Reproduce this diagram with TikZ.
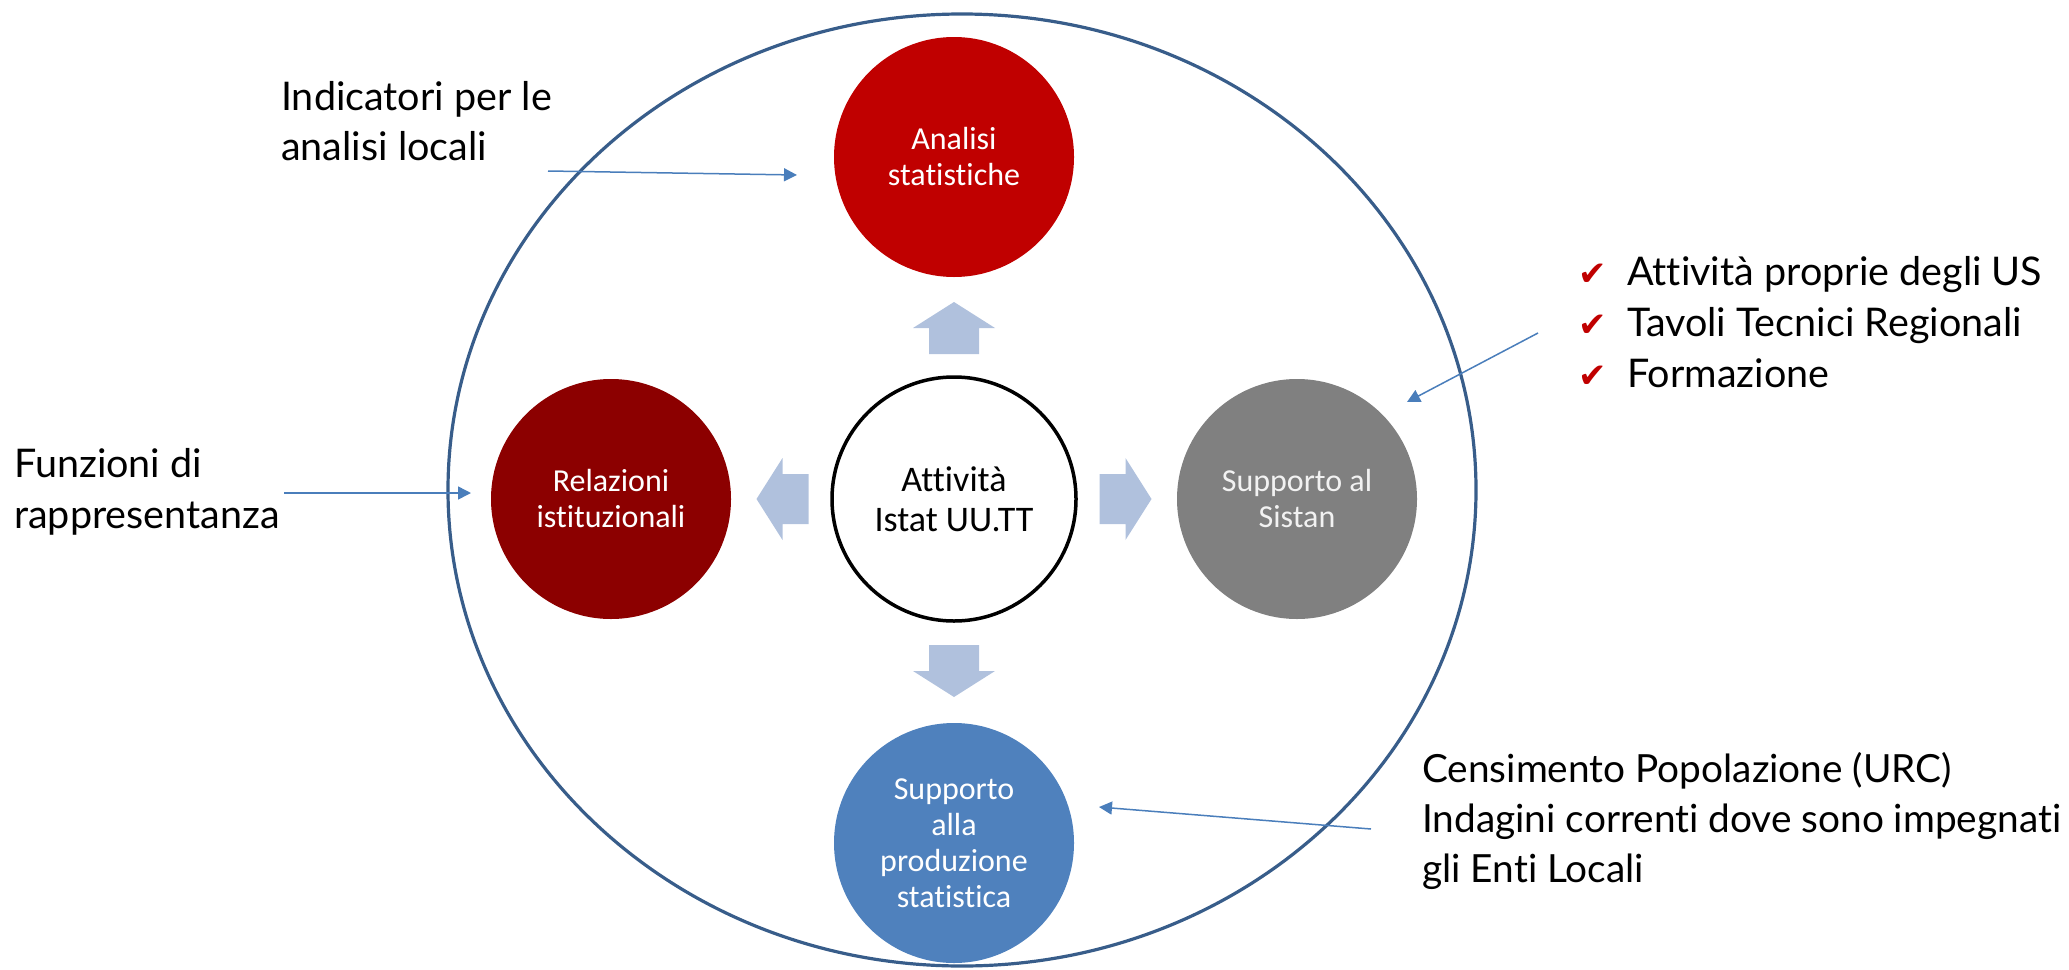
\documentclass[tikz,border=0pt]{standalone}
\usepackage{fontspec}
\setmainfont{Lato}[Ligatures=NoCommon]
\newfontfamily\calfont{Carlito}[Ligatures=NoCommon]
\newfontfamily\symfont{DejaVu Sans}
\usetikzlibrary{arrows.meta,calc}
\definecolor{outerline}{RGB}{56,93,138}
\definecolor{connblue}{RGB}{74,126,187}
\definecolor{blockblue}{RGB}{176,193,221}
\definecolor{redA}{RGB}{192,0,0}
\definecolor{redB}{RGB}{140,0,0}
\definecolor{grayC}{RGB}{128,128,128}
\definecolor{blueD}{RGB}{79,129,189}
\definecolor{chk}{RGB}{192,0,0}
\newcommand\mychk{\makebox[49pt][l]{\symfont\fontsize{34}{34}\selectfont\color{chk}✔}}
\begin{document}
\begin{tikzpicture}[x=1pt,y=-1pt,
  bubble/.style={circle, minimum size=240pt, inner sep=0pt, align=center, text=white, font=\calfont\fontsize{32}{36}\selectfont},
  hub/.style={circle, draw=black, line width=3.5pt, fill=white, minimum size=244pt, inner sep=0pt, align=center, font=\calfont\fontsize{36}{40}\selectfont},
  note/.style={anchor=base west, align=left, inner sep=0pt, font=\fontsize{39.5}{50}\selectfont},
  conn/.style={draw=connblue, line width=1.5pt, -{Triangle[length=13pt,width=13pt]}},
  blockarrow/.pic={\fill[blockblue] (-26,-25) -- (0,-25) -- (0,-41) -- (26,0) -- (0,41) -- (0,25) -- (-26,25) -- cycle;}
]
\useasboundingbox (0,0) rectangle (2069,969);
\draw[outerline, line width=3.2pt] (962,490) ellipse [x radius=514pt, y radius=476pt];

\node[bubble, fill=redA] (analisi) at (954,157) {Analisi\\statistiche};
\node[bubble, fill=redB] (relazioni) at (611,499) {Relazioni\\istituzionali};
\node[bubble, fill=grayC, text=white!95!black] (sistan) at (1297,499) {Supporto al\\Sistan};
\node[bubble, fill=blueD] (produzione) at (954,843) {Supporto\\alla\\produzione\\statistica};
\node[hub] (hub) at (954,499) {Attività\\Istat UU.TT};

\pic[rotate=90] at ($(hub)!0.5!(analisi)$) {blockarrow};
\pic[rotate=180] at ($(hub)!0.5!(relazioni)$) {blockarrow};
\pic at ($(hub)!0.5!(sistan)$) {blockarrow};
\pic[rotate=-90] at ($(hub)!0.5!(produzione)$) {blockarrow};

% base anchor of a multi-line note = baseline of its last line
\node[note] (indicatori) at (281,160) {Indicatori per le\\analisi locali};
\node[note, font=\fontsize{39.5}{51}\selectfont] (funzioni) at (14,528) {Funzioni di\\rappresentanza};
\node[note, font=\fontsize{39.5}{51}\selectfont] (lista) at (1578,387) {\mychk Attività proprie degli US\\\mychk Tavoli Tecnici Regionali\\\mychk Formazione};
\node[note, font=\fontsize{38.8}{50}\selectfont] (censimento) at (1422,882) {Censimento Popolazione (URC)\\Indagini correnti dove sono impegnati\\gli Enti Locali};

\coordinate (indS) at (548,171); \coordinate (indT) at (797,175);
\coordinate (funS) at (284,493); \coordinate (funT) at (471,493);
\coordinate (sisS) at (1538,333); \coordinate (sisT) at (1407,402);
\coordinate (cenS) at (1371,829); \coordinate (cenT) at (1099,807);
\draw[conn] (indS) -- (indT);
\draw[conn] (funS) -- (funT);
\draw[conn] (sisS) -- (sisT);
\draw[conn] (cenS) -- (cenT);
\end{tikzpicture}
\end{document}
